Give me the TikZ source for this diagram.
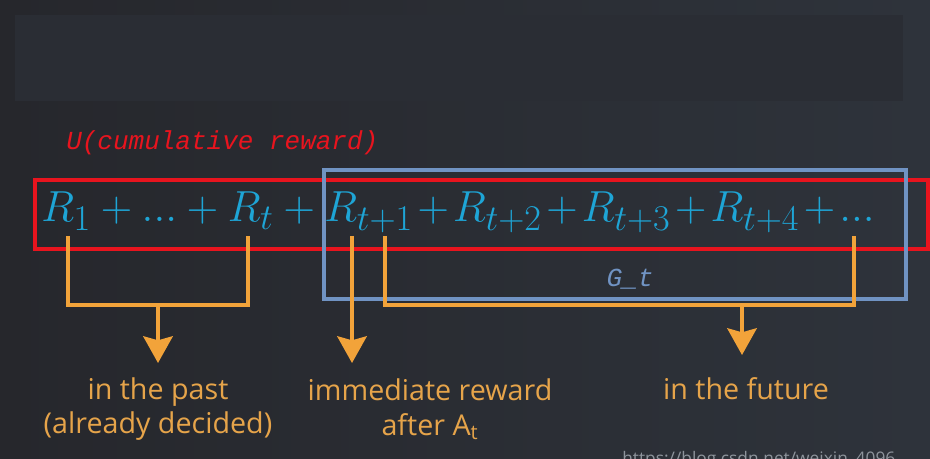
\documentclass[tikz,border=0pt]{standalone}
\usepackage{fontspec}
\setmainfont{Open Sans}
\setmonofont{Liberation Mono}
\usetikzlibrary{arrows.meta}
\definecolor{bgL}{HTML}{26272C}
\definecolor{bgR}{HTML}{2E333B}
\definecolor{topc}{HTML}{2A2D34}
\definecolor{redc}{HTML}{E8141E}
\definecolor{bluec}{HTML}{7093C3}
\definecolor{cyanc}{HTML}{1EA5D6}
\definecolor{orangec}{HTML}{F2A33A}
\definecolor{labelc}{HTML}{E6A44A}
\definecolor{wmc}{HTML}{8E949C}
\newcommand{\tplus}{\mkern1.8mu{+}\mkern1.8mu}
\tikzset{
  redbox/.style={draw=redc, line width=2.4pt},
  bluebox/.style={draw=bluec, line width=2.4pt},
  brk/.style={draw=orangec, line width=3pt},
  arr/.style={draw=orangec, line width=3pt, -{Stealth[width=22pt,length=20pt,inset=3pt]}},
  lbl/.style={text=labelc, font=\fontsize{21.5}{26}\selectfont, align=center, inner sep=0pt},
  monotxt/.style={font=\fontsize{19.5}{22}\selectfont\ttfamily\itshape, inner sep=0pt},
}
\begin{document}
\begin{tikzpicture}[x=0.75pt,y=-0.75pt]
\useasboundingbox (0,0) rectangle (930,459);
\shade[left color=bgL, right color=bgR] (0,0) rectangle (930,459);
\fill[topc] (15,15) rectangle (903,101);

\node[monotxt, text=redc, anchor=base west] (utxt) at (66,150) {U(cumulative reward)};

\node[text=cyanc, inner sep=0pt, anchor=base west, font=\fontsize{24.88}{30}\selectfont] (eq) at (41,222)
  {\scalebox{1.31}{$R_1+...+R_t+R_{t+1}\tplus R_{t+2}\tplus R_{t+3}\tplus R_{t+4}\tplus ...$}};

\draw[redbox] (35,180) rectangle (928,249);
\draw[bluebox] (324,170) rectangle (906,299);

\node[monotxt, text=bluec] (gt) at (630,279) {G\_t};

% bracket coordinates
\coordinate (a1) at (68,236);
\coordinate (a2) at (248,236);
\coordinate (am) at (158,305);
\coordinate (at) at (158,363);
\coordinate (b1) at (352,236);
\coordinate (bt) at (352,363);
\coordinate (c1) at (385,236);
\coordinate (c2) at (854,236);
\coordinate (cm) at (742,305);
\coordinate (ct) at (742,355);

\draw[brk] (a1) |- (am) -| (a2);
\draw[arr] (am) -- (at);
\draw[arr] (b1) -- (bt);
\draw[brk] (c1) |- (cm) -| (c2);
\draw[arr] (cm) -- (ct);

\node[lbl] (past) at (158,409) {in the past\\(already decided)};
\node[lbl] (imm) at (430,409) {immediate reward\\after A\textsubscript{t}};
\node[lbl, anchor=base] (fut) at (746,399) {in the future};

\begin{scope}
\clip (0,0) rectangle (930,459);
\node[text=wmc, anchor=north west, inner sep=0pt, font=\fontsize{13}{15}\selectfont] (wm) at (622,451) {https://blog.csdn.net/weixin\_4096};
\end{scope}
\end{tikzpicture}
\end{document}
